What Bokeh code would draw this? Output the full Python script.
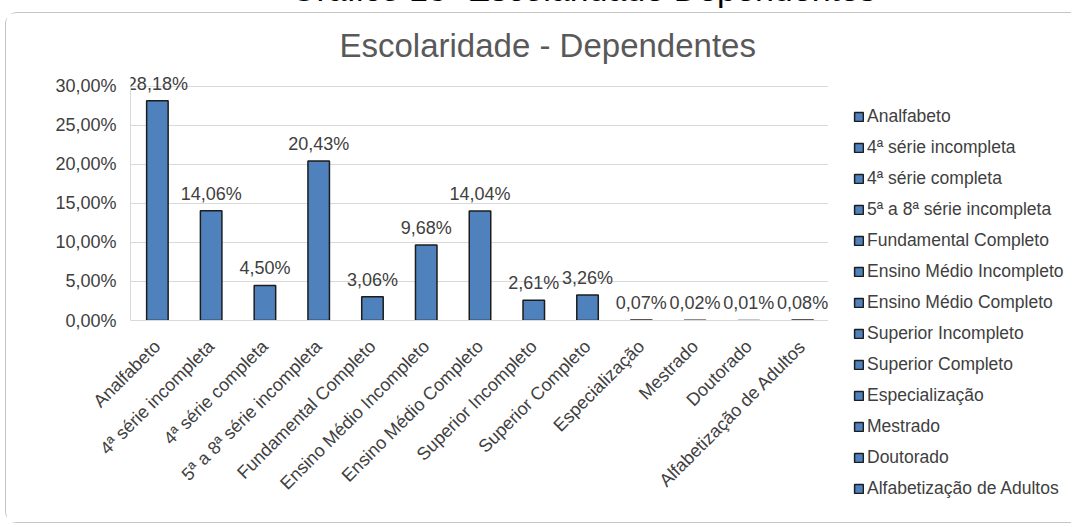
from bokeh.plotting import figure
from bokeh.models import (ColumnDataSource, FactorRange, Range1d, FixedTicker,
                          Legend, LegendItem, Title, Div)
from bokeh.layouts import column, row
from bokeh.core.properties import value
from bokeh.embed import file_html
from bokeh.resources import INLINE

# ---- data ----
categories = ["Analfabeto", "4ª série incompleta", "4ª série completa",
              "5ª a 8ª série incompleta", "Fundamental Completo",
              "Ensino Médio Incompleto", "Ensino Médio Completo",
              "Superior Incompleto", "Superior Completo", "Especialização",
              "Mestrado", "Doutorado", "Alfabetização de Adultos"]
percentages = [28.18, 14.06, 4.50, 20.43, 3.06, 9.68, 14.04, 2.61, 3.26,
               0.07, 0.02, 0.01, 0.08]
y_ticks = [0, 5, 10, 15, 20, 25, 30]
chart_title = "Escolaridade - Dependentes"
page_caption = "Gráfico 18- Escolaridade Dependentes"


def br_pct(v):
    return f"{v:.2f}".replace(".", ",") + "%"


FONT = "Liberation Sans"
TXT = "#404040"
BORDER = "1px solid #c4c4c4"
BAR_FILL = "#4F81BD"
BAR_LINE = "#1c1c1c"

src = ColumnDataSource(dict(cat=categories, val=percentages,
                            lbl=[br_pct(v) for v in percentages]))

# ---------------- main chart ----------------
p = figure(x_range=FactorRange(factors=categories), y_range=Range1d(0, 31.53),
           width=823, height=511, output_backend="svg", toolbar_location=None,
           min_border_left=124, min_border_right=0, min_border_top=60,
           min_border_bottom=204)
p.frame_align = False
p.styles = {"margin-left": "5px", "border-left": BORDER, "border-top": BORDER,
            "border-bottom": BORDER, "border-radius": "12px 0 0 12px"}
p.outline_line_color = None
p.background_fill_color = "white"
p.border_fill_color = "white"

p.title = Title(text=chart_title, align="left", offset=209, standoff=22,
                text_font=FONT, text_font_size="33px", text_color="#595959",
                text_font_style="normal")

r = p.vbar(x="cat", top="val", width=0.4, source=src, fill_color=BAR_FILL,
           line_color=BAR_LINE, line_width=1.5)

p.text(x="cat", y="val", text="lbl", source=src, text_align="center",
       text_baseline="bottom", y_offset=-7, text_font=value(FONT),
       text_font_size=value("18px"), text_color=TXT)

p.xgrid.grid_line_color = None
p.ygrid.grid_line_color = "#d9d9d9"
p.ygrid.grid_line_width = 1

xa = p.xaxis[0]
xa.axis_line_color = "#d9d9d9"
xa.major_tick_line_color = None
xa.minor_tick_line_color = None
xa.major_label_orientation = 0.7854
xa.major_label_standoff = 17
xa.major_label_text_font = FONT
xa.major_label_text_font_size = "18px"
xa.major_label_text_color = TXT

ya = p.yaxis[0]
ya.ticker = FixedTicker(ticks=y_ticks)
ya.major_label_overrides = {t: br_pct(t) for t in y_ticks}
ya.bounds = (0, 30)
ya.axis_line_color = "#d9d9d9"
ya.major_tick_line_color = None
ya.minor_tick_line_color = None
ya.major_tick_out = 0
ya.major_label_standoff = 14
ya.major_label_text_font = FONT
ya.major_label_text_font_size = "18px"
ya.major_label_text_color = TXT

# ---------------- legend panel ----------------
p2 = figure(x_range=FactorRange(factors=categories), y_range=Range1d(100, 200),
            width=243, height=511, output_backend="svg", toolbar_location=None,
            x_axis_type=None, y_axis_type=None, min_border=0)
p2.frame_align = False
p2.styles = {"border-top": BORDER, "border-bottom": BORDER}
p2.outline_line_color = None
p2.grid.visible = False
p2.background_fill_color = "white"
p2.border_fill_color = "white"

r2 = p2.vbar(x="cat", top="val", width=0.4, source=src, fill_color=BAR_FILL,
             line_color=BAR_LINE, line_width=1.5)

items = [LegendItem(label=c, renderers=[r2], index=i)
         for i, c in enumerate(categories)]
legend = Legend(items=items, location=(25, 20), glyph_width=11,
                glyph_height=11, label_height=31, spacing=0, label_standoff=3,
                padding=0, margin=0, border_line_color=None,
                background_fill_alpha=0, label_text_font=FONT,
                label_text_font_size="17.5px", label_text_color=TXT)
p2.add_layout(legend)

caption = Div(
    text=('<div style="position:relative; top:-28px; left:290px; '
          "font-family:'Liberation Sans'; font-size:34px; line-height:34px; "
          'white-space:nowrap; color:#000;">' + page_caption + '</div>'),
    width=1073, height=12, margin=0, styles={"overflow": "visible"})

layout = column(caption, row(p, p2, spacing=0), spacing=0)

open("out.html", "w").write(file_html(layout, INLINE))
